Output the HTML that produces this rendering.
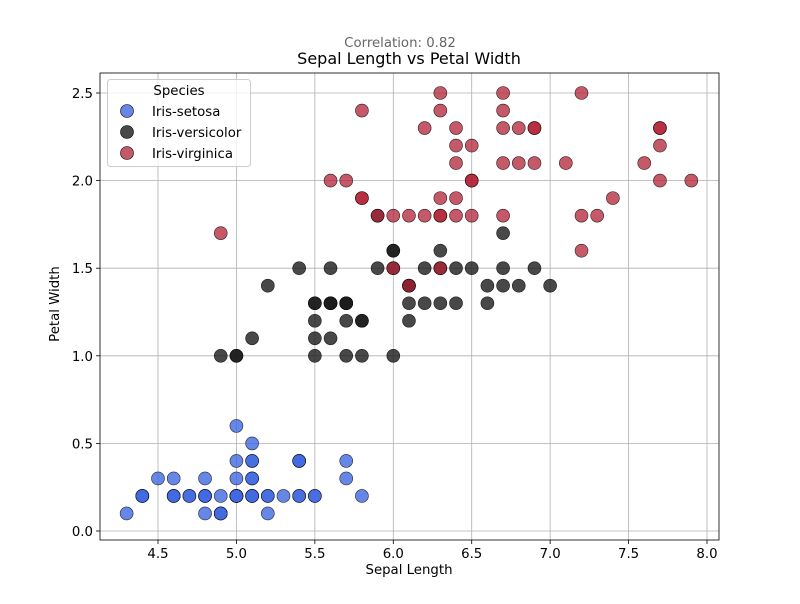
<!DOCTYPE html>
<html><head><meta charset="utf-8"><style>
body{margin:0;background:#fff;font-family:"DejaVu Sans","Liberation Sans",sans-serif}
</style></head><body>
<svg id="c" width="800" height="600" xmlns="http://www.w3.org/2000/svg" font-family="DejaVu Sans, Liberation Sans, sans-serif">
<rect width="800" height="600" fill="#fff"/>
<text x="400" y="47" text-anchor="middle" font-size="13.3" fill="#666">Correlation: 0.82</text>
<text x="409" y="64" text-anchor="middle" font-size="16" fill="#000">Sepal Length vs Petal Width</text>
<g id="grid"></g><g id="pts"></g><g id="axes"></g>
<text x="409" y="574" text-anchor="middle" font-size="13.3">Sepal Length</text>
<text x="59" y="304" text-anchor="middle" font-size="13.3" transform="rotate(-90 59 304)">Petal Width</text>
<g>
<rect x="107.5" y="79.5" width="143" height="87" rx="3" fill="#fff" fill-opacity="0.8" stroke="#ccc"/>
<text x="179" y="95" text-anchor="middle" font-size="13.3">Species</text>
<g><circle cx="127" cy="111" r="6.5" fill="royalblue" fill-opacity="0.8" stroke="#000" stroke-width="0.6"/><text x="152" y="116" font-size="13.3">Iris-setosa</text></g>
<g><circle cx="127" cy="132" r="6.5" fill="#1a1a1a" fill-opacity="0.8" stroke="#000" stroke-width="0.6"/><text x="152" y="137" font-size="13.3">Iris-versicolor</text></g>
<g><circle cx="127" cy="153" r="6.5" fill="#b22234" fill-opacity="0.75" stroke="#000" stroke-width="0.6"/><text x="152" y="158" font-size="13.3">Iris-virginica</text></g>
</g>
</svg>
<script>
const setosaX=[5.1,4.9,4.7,4.6,5.0,5.4,4.6,5.0,4.4,4.9,5.4,4.8,4.8,4.3,5.8,5.7,5.4,5.1,5.7,5.1,5.4,5.1,4.6,5.1,4.8,5.0,5.0,5.2,5.2,4.7,4.8,5.4,5.2,5.5,4.9,5.0,5.5,4.9,4.4,5.1,5.0,4.5,4.4,5.0,5.1,4.8,5.1,4.6,5.3,5.0];
const setosaY=[0.2,0.2,0.2,0.2,0.2,0.4,0.3,0.2,0.2,0.1,0.2,0.2,0.1,0.1,0.2,0.4,0.4,0.3,0.3,0.3,0.2,0.4,0.2,0.5,0.2,0.2,0.4,0.2,0.2,0.2,0.2,0.4,0.1,0.2,0.1,0.2,0.2,0.1,0.2,0.2,0.3,0.3,0.2,0.6,0.4,0.3,0.2,0.2,0.2,0.2];
const versiX=[7.0,6.4,6.9,5.5,6.5,5.7,6.3,4.9,6.6,5.2,5.0,5.9,6.0,6.1,5.6,6.7,5.6,5.8,6.2,5.6,5.9,6.1,6.3,6.1,6.4,6.6,6.8,6.7,6.0,5.7,5.5,5.5,5.8,6.0,5.4,6.0,6.7,6.3,5.6,5.5,5.5,6.1,5.8,5.0,5.6,5.7,5.7,6.2,5.1,5.7];
const versiY=[1.4,1.5,1.5,1.3,1.5,1.3,1.6,1.0,1.3,1.4,1.0,1.5,1.0,1.4,1.3,1.4,1.5,1.0,1.5,1.1,1.8,1.3,1.5,1.2,1.3,1.4,1.4,1.7,1.5,1.0,1.1,1.0,1.2,1.6,1.5,1.6,1.5,1.3,1.3,1.3,1.2,1.4,1.2,1.0,1.3,1.2,1.3,1.3,1.1,1.3];
const virgX=[6.3,5.8,7.1,6.3,6.5,7.6,4.9,7.3,6.7,7.2,6.5,6.4,6.8,5.7,5.8,6.4,6.5,7.7,7.7,6.0,6.9,5.6,7.7,6.3,6.7,7.2,6.2,6.1,6.4,7.2,7.4,7.9,6.4,6.3,6.1,7.7,6.3,6.4,6.0,6.9,6.7,6.9,5.8,6.8,6.7,6.7,6.3,6.5,6.2,5.9];
const virgY=[2.5,1.9,2.1,1.8,2.2,2.1,1.7,1.8,1.8,2.5,2.0,1.9,2.1,2.0,2.4,2.3,1.8,2.2,2.3,1.5,2.3,2.0,2.0,1.8,2.1,1.8,1.8,1.8,2.1,1.6,1.9,2.0,2.2,1.5,1.4,2.3,2.4,1.8,1.8,2.1,2.4,2.3,1.9,2.3,2.5,2.3,1.9,2.0,2.3,1.8];
const xTicks=[4.5,5.0,5.5,6.0,6.5,7.0,7.5,8.0];
const yTicks=[0.0,0.5,1.0,1.5,2.0,2.5];
const NS="http://www.w3.org/2000/svg";
const L=100,R=719,T=73,B=540;
const sx=v=>158+(v-4.5)*(707-158)/3.5;
const sy=v=>531-v*(531-93)/2.5;
function mk(tag,a,p){const e=document.createElementNS(NS,tag);for(const k in a)e.setAttribute(k,a[k]);p.appendChild(e);return e;}
const grid=document.getElementById('grid'),axes=document.getElementById('axes'),pts=document.getElementById('pts');
xTicks.forEach(t=>{const x=sx(t);
 const g=mk('line',{x1:x,x2:x,y1:T,y2:B,stroke:'#b0b0b0','stroke-width':0.8},grid);
 
 
 mk('line',{x1:x,x2:x,y1:B,y2:B+4,stroke:'#000','stroke-width':0.8},axes);
 const tx=mk('text',{x:x,y:B+18,'text-anchor':'middle','font-size':13.3},axes);tx.textContent=t.toFixed(1);
 
 });
yTicks.forEach(t=>{const y=sy(t);
 const g=mk('line',{x1:L,x2:R,y1:y,y2:y,stroke:'#b0b0b0','stroke-width':0.8},grid);
 
 
 mk('line',{x1:L-4,x2:L,y1:y,y2:y,stroke:'#000','stroke-width':0.8},axes);
 const tx=mk('text',{x:L-7,y:y+5,'text-anchor':'end','font-size':13.3},axes);tx.textContent=t.toFixed(1);
 
 });
const frame=mk('rect',{x:L,y:T,width:R-L,height:B-T,fill:'none',stroke:'#000','stroke-width':0.8},axes);


function series(xs,ys,col,op,name){xs.forEach((v,i)=>{const c=mk('circle',{cx:sx(v),cy:sy(ys[i]),r:6.5,fill:col,'fill-opacity':op,stroke:'#000','stroke-width':0.6,'stroke-opacity':0.8},pts);
 
 });}
series(setosaX,setosaY,'royalblue',0.8,'setosa-point');
series(versiX,versiY,'#1a1a1a',0.8,'versicolor-point');
series(virgX,virgY,'#b22234',0.75,'virginica-point');
</script>
</body></html>
